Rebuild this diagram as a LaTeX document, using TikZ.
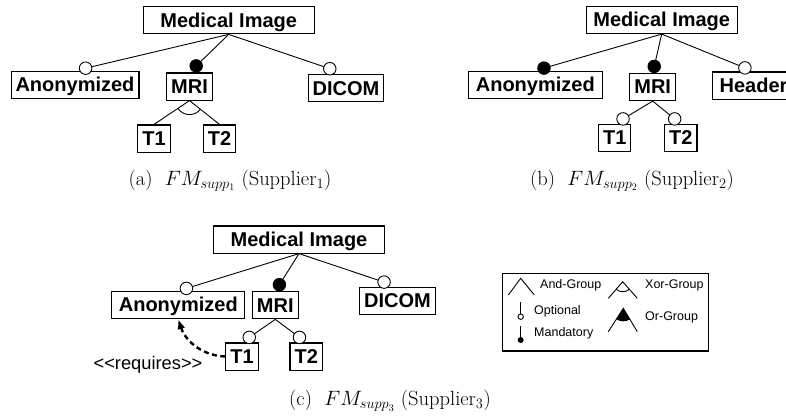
\documentclass[tikz,border=0pt]{standalone}
\usepackage{fontspec}
\newfontfamily\helv{Liberation Sans}
\usetikzlibrary{calc,arrows.meta}

\tikzset{
  feat/.style={draw, line width=1.1pt, fill=white,
    font=\helv\bfseries\fontsize{20}{24}\selectfont,
    inner xsep=4.5pt, inner ysep=3.3pt, text height=17pt, text depth=3.5pt},
  tree/.style={line width=0.9pt},
  optmark/.style={circle, draw, fill=white, line width=0.9pt, minimum size=12.5pt, inner sep=0pt},
  mandmark/.style={circle, draw, fill=black, line width=0.9pt, minimum size=12.5pt, inner sep=0pt},
  caption/.style={font=\fontsize{20.5}{24}\selectfont, inner sep=0pt},
  legtext/.style={font=\helv\fontsize{12.5}{15}\selectfont, anchor=west, inner sep=0pt},
  legline/.style={line width=0.9pt},
  reqarrow/.style={line width=2.4pt, dash pattern=on 5pt off 3.5pt,
    -{Latex[length=10pt,width=8pt]}},
}

% edge from a parent feature to a child feature, with an optional/mandatory
% circle sitting #4 units above the child's top edge
\newcommand\featedge[4]{%
  \path let \p1=(#1.south), \p2=(#2.north) in
    ({\x2+(\x1-\x2)*(#4)/(\y1-\y2)}, {\y2+#4pt}) coordinate (#2-mk);
  \draw[tree] (#1.south) -- (#2-mk);
  \node[#3] at (#2-mk) {};
}

\begin{document}
\begin{tikzpicture}[x=1pt, y=-1pt]
\useasboundingbox (0,0) rectangle (786,418);

% ---------------- supplier 1 ----------------
\node[feat, minimum width=171pt] (rootA) at (228.7,20.3) {Medical Image};
\node[feat] (anonA)  at (75,84.8)    {Anonymized};
\node[feat] (mriA)   at (189.5,86.5) {MRI};
\node[feat] (dicomA) at (346,88.3)   {DICOM};
\node[feat] (t1A)    at (154,138.5)  {T1};
\node[feat] (t2A)    at (219.5,138.5){T2};

\featedge{rootA}{anonA}{optmark}{2.5}
\featedge{rootA}{mriA}{mandmark}{6.5}
\featedge{rootA}{dicomA}{optmark}{5.5}
\draw[tree] (mriA.south) -- (t1A.north);
\draw[tree] (mriA.south) -- (t2A.north);
\draw[tree] let \p1=(mriA.south), \p2=(t1A.north), \p3=(t2A.north),
    \n1={atan2(\y2-\y1,\x2-\x1)}, \n2={atan2(\y3-\y1,\x3-\x1)} in
  ($(mriA.south)+(\n1:14pt)$) arc[start angle=\n1, end angle=\n2, radius=14pt];

\node[caption] (capA) at (230,181) {(a)\hspace{0.6em}$FM_{supp_1}$ (Supplier$_1$)};

% ---------------- supplier 2 ----------------
\node[feat, minimum width=151pt] (rootB) at (661.7,20) {Medical Image};
\node[feat, minimum width=134pt] (anonB) at (535.3,84.7) {Anonymized};
\node[feat] (mriB)    at (652.7,87)   {MRI};
\node[feat, inner xsep=7pt] (headerB) at (753.5,85.5) {Header};
\node[feat] (t1B)     at (614.7,138)  {T1};
\node[feat] (t2B)     at (680.8,138)  {T2};

\featedge{rootB}{anonB}{mandmark}{2.5}
\featedge{rootB}{mriB}{mandmark}{6.5}
\featedge{rootB}{headerB}{optmark}{3.5}
\featedge{mriB}{t1B}{optmark}{5}
\featedge{mriB}{t2B}{optmark}{5}

\node[caption] (capB) at (632,181) {(b)\hspace{0.6em}$FM_{supp_2}$ (Supplier$_2$)};

% ---------------- supplier 3 ----------------
\node[feat, minimum width=171pt] (rootC) at (299,239.5) {Medical Image};
\node[feat, minimum width=133pt] (anonC) at (178.3,305) {Anonymized};
\node[feat] (mriC)   at (275.3,305.3) {MRI};
\node[feat] (dicomC) at (397.5,300.7) {DICOM};
\node[feat] (t1C)    at (242,356.5)   {T1};
\node[feat] (t2C)    at (306.2,356.5) {T2};

\featedge{rootC}{anonC}{optmark}{2.5}
\featedge{rootC}{mriC}{mandmark}{6.5}
\featedge{rootC}{dicomC}{optmark}{4.5}
\featedge{mriC}{t1C}{optmark}{5}
\featedge{mriC}{t2C}{optmark}{5}

\draw[reqarrow] (t1C.west) .. controls +(-26,-1) and +(6,19) .. (anonC.south);
\node[font=\helv\fontsize{18.3}{22}\selectfont, inner sep=0pt] (req) at (148,365)
  {{<}{<}requires{>}{>}};

\node[caption] (capC) at (390,401) {(c)\hspace{0.6em}$FM_{supp_3}$ (Supplier$_3$)};

% ---------------- legend ----------------
\node[draw, line width=1.5pt, minimum width=205.6pt, minimum height=77.7pt, inner sep=0pt]
  (legend) at (605.5,312.2) {};

% and-group
\draw[legline] (508.3,295) -- (520.7,278.3) -- (534.3,295);
\node[legtext] (andT) at (540,285) {And-Group};
% xor-group
\coordinate (xa) at (622.7,281.7);
\draw[legline] (608.3,298.3) -- (xa) -- (637.3,298.3);
\draw[legline] ($(xa)+(-131:10pt)$) arc[start angle=-131, end angle=-48.7, radius=10pt];
\node[legtext] (xorT) at (645,285) {Xor-Group};
% optional
\draw[legline] (520.7,301.7) -- (520.7,314);
\draw[legline, fill=white] (520.7,316.7) circle[radius=2.7pt];
\node[legtext] (optT) at (534,311) {Optional};
% mandatory
\draw[legline] (520.7,326) -- (520.7,337.5);
\fill (520.7,340) circle[radius=3pt];
\node[legtext] (manT) at (534,333.3) {Mandatory};
% or-group
\coordinate (oa) at (623.3,308.3);
\fill (oa) -- ($(oa)+(-122.7:13pt)$) arc[start angle=-122.7, end angle=-59.1, radius=13pt] -- cycle;
\draw[legline] (608.3,331.7) -- (oa) -- (637.3,331.7);
\node[legtext] (orT) at (645,317.7) {Or-Group};

\end{tikzpicture}
\end{document}
